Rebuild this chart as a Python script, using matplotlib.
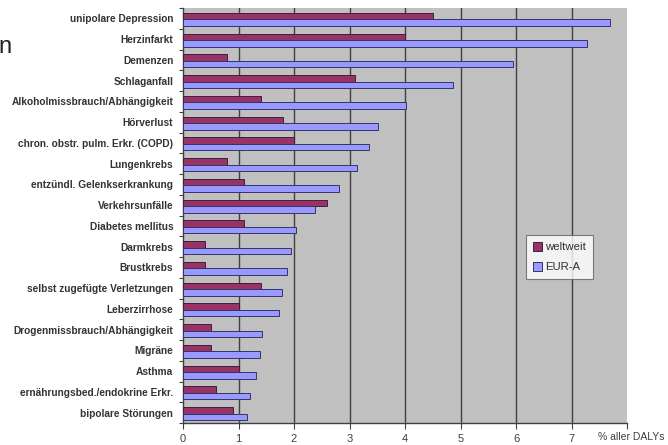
import matplotlib
matplotlib.use("Agg")
import matplotlib.pyplot as plt
import numpy as np

categories = [
    "unipolare Depression",
    "Herzinfarkt",
    "Demenzen",
    "Schlaganfall",
    "Alkoholmissbrauch/Abhängigkeit",
    "Hörverlust",
    "chron. obstr. pulm. Erkr. (COPD)",
    "Lungenkrebs",
    "entzündl. Gelenkserkrankung",
    "Verkehrsunfälle",
    "Diabetes mellitus",
    "Darmkrebs",
    "Brustkrebs",
    "selbst zugefügte Verletzungen",
    "Leberzirrhose",
    "Drogenmissbrauch/Abhängigkeit",
    "Migräne",
    "Asthma",
    "ernährungsbed./endokrine Erkr.",
    "bipolare Störungen",
]
weltweit = [4.5, 4.0, 0.8, 3.1, 1.4, 1.8, 2.0, 0.8, 1.1, 2.6,
            1.1, 0.4, 0.4, 1.4, 1.0, 0.5, 0.5, 1.0, 0.6, 0.9]
eur_a = [7.7, 7.28, 5.94, 4.87, 4.01, 3.51, 3.36, 3.13, 2.81, 2.37,
         2.03, 1.95, 1.87, 1.78, 1.73, 1.42, 1.39, 1.32, 1.2, 1.16]
x_ticks = [0, 1, 2, 3, 4, 5, 6, 7]
series_names = ["weltweit", "EUR-A"]

plt.rcParams['font.family'] = ['Liberation Sans', 'DejaVu Sans']

fig = plt.figure(figsize=(6.68, 4.45), dpi=100)
ax = fig.add_axes([183/668, 1-423/445, (627-183)/668, (423-8)/445])
ax.set_facecolor("#C0C0C0")

n = len(categories)
y = np.arange(n)
h = 0.31
ax.barh(y - h/2 + 0.05, weltweit, height=h, color="#993366",
        edgecolor="#3a2040", linewidth=0.7, label=series_names[0], zorder=3)
ax.barh(y + h/2 + 0.05, eur_a, height=h, color="#9999FF",
        edgecolor="#333366", linewidth=0.7, label=series_names[1], zorder=3)

ax.set_xlim(0, 8)
ax.set_ylim(n - 0.5, -0.5)

# vertical grid at integer positions
for xv in x_ticks[1:]:
    ax.axvline(xv, color="#404040", linewidth=1.0, zorder=1)

for s in ["top", "right"]:
    ax.spines[s].set_visible(False)
for s in ["left", "bottom"]:
    ax.spines[s].set_color("#404040")
    ax.spines[s].set_linewidth(1.0)

# category boundary ticks on the y axis, labels at centers
ax.set_yticks(np.arange(n + 1) - 0.5)
ax.set_yticklabels([])
ax.tick_params(axis="y", which="major", length=3, color="#404040", width=0.8)
ax.set_yticks(y, minor=True)
ax.set_yticklabels(categories, minor=True, fontsize=7.3, fontweight="bold",
                   color="#333333")
ax.tick_params(axis="y", which="minor", length=0, pad=7)

ax.set_xticks(x_ticks + [8])
ax.set_xticklabels([str(v) for v in x_ticks] + [""], fontsize=8, color="#404040")
ax.tick_params(axis="x", length=4, color="#404040", width=0.8, pad=4)

fig.text(631/668, 1-437/445, "% aller DALYs", fontsize=7.5, color="#404040",
         ha="center", va="center")

leg = ax.legend(loc="upper left", bbox_to_anchor=((526-183)/444, 1-(235-8)/415),
                fontsize=8.2, frameon=True, fancybox=False, handlelength=0.8,
                handleheight=0.8, handletextpad=0.3, borderpad=0.6,
                labelspacing=0.85, borderaxespad=0)
leg.get_frame().set_edgecolor("#606060")
leg.get_frame().set_linewidth(0.8)
leg.get_frame().set_facecolor("white")
for t in leg.get_texts():
    t.set_color("#303030")

fig.text(0.008, 1-47/445, "n", fontsize=17, color="#202020",
         ha="center", va="center")

fig.savefig("out.png", dpi=100)
